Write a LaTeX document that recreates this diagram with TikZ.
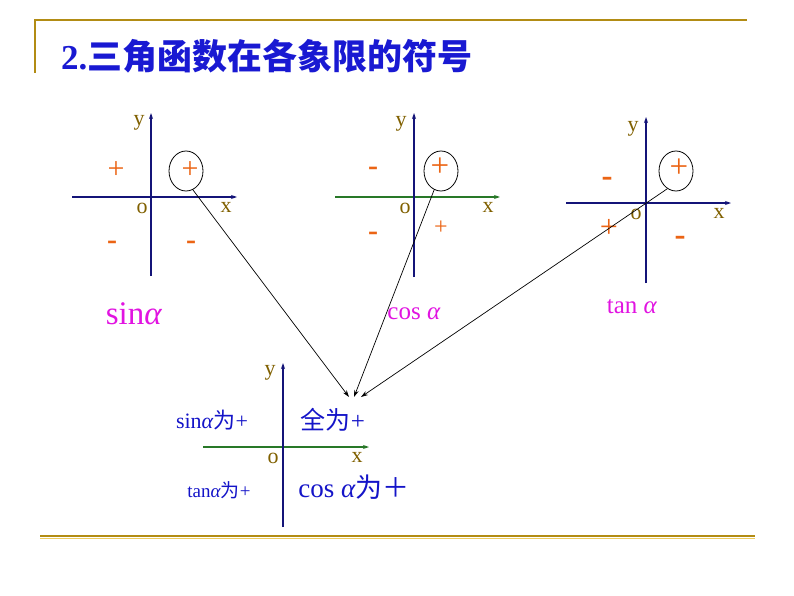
\documentclass[tikz,border=0pt]{standalone}
\usepackage{fontspec}
\setmainfont{Liberation Serif}
\newfontfamily\cjk{Noto Sans CJK SC}
\usetikzlibrary{arrows.meta,shapes.geometric}
\definecolor{golddark}{RGB}{178,140,20}
\definecolor{goldlight}{RGB}{238,205,95}
\definecolor{navy}{RGB}{20,20,120}
\definecolor{axgreen}{RGB}{40,120,40}
\definecolor{olive}{RGB}{128,96,0}
\definecolor{signorange}{RGB}{235,100,20}
\definecolor{mag}{RGB}{225,20,225}
\definecolor{txtblue}{RGB}{20,20,200}
\definecolor{titleblue}{RGB}{25,25,210}
\begin{document}
\begin{tikzpicture}[x=1pt,y=-1pt,
  frame/.style={draw=golddark,line width=2pt},
  yax/.style={draw=navy,line width=2pt,-{Stealth[length=6pt,width=4pt]}},
  xax/.style={draw=navy,line width=1.5pt,-{Stealth[length=6pt,width=4pt]}},
  gxax/.style={draw=axgreen,line width=1.3pt,-{Stealth[length=6pt,width=4pt]}},
  lbl/.style={text=olive,inner sep=0pt,font=\fontsize{22}{22}\selectfont},
  sg/.style={text=signorange,inner sep=0pt,font=\fontsize{#1}{#1}\selectfont},
  mn/.style={text=signorange,inner sep=0pt,font=\bfseries\fontsize{#1}{#1}\selectfont},
  circ/.style={draw=black,line width=0.8pt,ellipse,inner sep=0pt,minimum width=34pt,minimum height=40pt},
  fn/.style={text=mag,inner sep=0pt,font=\fontsize{#1}{#1}\selectfont},
  bt/.style={text=txtblue,inner sep=0pt,font=\fontsize{#1}{#1}\selectfont},
  conn/.style={draw=black,line width=0.7pt,-{Stealth[length=7pt,width=4.5pt]}}]
\useasboundingbox (0,0) rectangle (794,596);
% frame
\coordinate (f1) at (35,20); \coordinate (f2) at (747,20); \coordinate (f3) at (35,73);
\draw[frame] (f3) -- (f1) -- (f2);
\coordinate (g1) at (40,536); \coordinate (g2) at (755,536);
\coordinate (g3) at (40,538.5); \coordinate (g4) at (755,538.5);
\draw[draw=goldlight,line width=1.5pt] (g3) -- (g4);
\draw[draw=golddark,line width=1.5pt] (g1) -- (g2);
% title
\node[anchor=west,inner sep=0pt,text=titleblue,font=\bfseries\fontsize{35}{35}\selectfont] (title) at (61,56) {2.{\cjk 三角函数在各象限的符号}};
% ---- sin ----
\coordinate (sl) at (72,197); \coordinate (sr) at (237,197);
\coordinate (sb) at (151,276); \coordinate (st) at (151,113);
\draw[xax] (sl) -- (sr); \draw[yax] (sb) -- (st);
\node[lbl] (sy) at (139,123) {y};
\node[lbl] (so) at (142,208) {o};
\node[lbl] (sx) at (226,207) {x};
\node[sg=30] (sp1) at (116,170) {+};
\node[sg=30] (sp2) at (190,170) {+};
\node[circ] (e1) at (186,171) {};
\node[mn=30] (sm3) at (112,245) {-};
\node[mn=30] (sm4) at (191,245) {-};
\node[fn=33] (sinl) at (134,314) {sin\textit{α}};
% ---- cos ----
\coordinate (cl) at (335,197); \coordinate (cr) at (500,197);
\coordinate (cb) at (414,277); \coordinate (ct) at (414,113);
\draw[gxax] (cl) -- (cr); \draw[yax] (cb) -- (ct);
\node[lbl] (cy) at (401,124) {y};
\node[lbl] (co) at (405,208) {o};
\node[lbl] (cx) at (488,207) {x};
\node[mn=30] (cm2) at (373,171) {-};
\node[sg=33] (cp1) at (440,167) {+};
\node[circ] (e2) at (441,171) {};
\node[mn=30] (cm3) at (373,236) {-};
\node[sg=24] (cp4) at (441,228) {+};
\node[fn=25] (cosl) at (414,314) {cos \textit{α}};
% ---- tan ----
\coordinate (tl) at (566,203); \coordinate (tr) at (731,203);
\coordinate (tb) at (646,283); \coordinate (tt) at (646,117);
\draw[xax] (tl) -- (tr); \draw[yax] (tb) -- (tt);
\node[lbl] (ty) at (633,129) {y};
\node[lbl] (to) at (636,214) {o};
\node[lbl] (tx) at (719,213) {x};
\node[mn=33] (tm2) at (607,182) {-};
\node[sg=33] (tp1) at (679,168) {+};
\node[circ] (e3) at (676,171) {};
\node[sg=32] (tp3) at (609,228) {+};
\node[mn=33] (tm4) at (680,241) {-};
\node[fn=25] (tanl) at (632,307) {tan \textit{α}};
% ---- summary ----
\coordinate (bl) at (203,447); \coordinate (br) at (369,447);
\coordinate (bb) at (283,527); \coordinate (bt) at (283,363);
\draw[gxax] (bl) -- (br); \draw[yax] (bb) -- (bt);
\node[lbl] (by) at (270,373) {y};
\node[lbl] (bo) at (273,458) {o};
\node[lbl] (bx) at (357,457) {x};
\node[bt=22] (q2) at (212,420) {sin\textit{α}{\cjk 为}+};
\node[bt=25] (q1) at (333,420) {{\cjk 全为}+};
\node[bt=19] (q3) at (219,490) {tan\textit{α}{\cjk 为}+};
\node[bt=27] (q4) at (354,487) {cos \textit{α}{\cjk 为＋}};
% connectors
\coordinate (t1) at (349,397);
\coordinate (t2) at (354,397);
\coordinate (t3) at (361,397);
\draw[conn] (e1.-70) -- (t1);
\draw[conn] (e2.-110) -- (t2);
\draw[conn] (e3.-116) -- (t3);
\end{tikzpicture}
\end{document}
